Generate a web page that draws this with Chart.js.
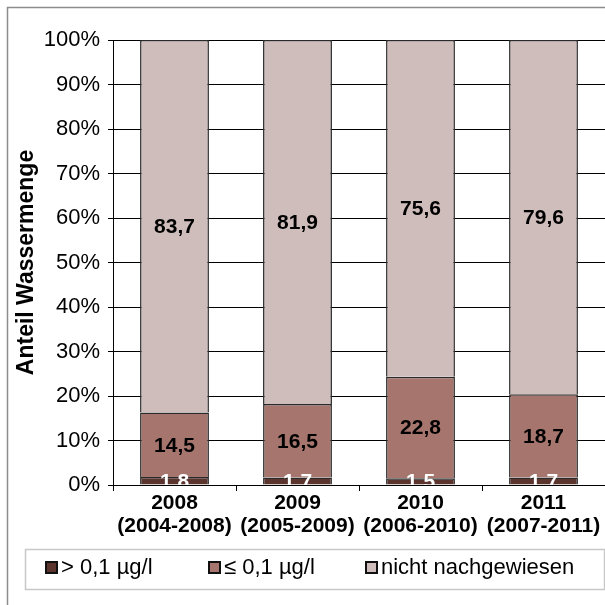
<!DOCTYPE html>
<html>
<head>
<meta charset="utf-8">
<script src="https://cdn.jsdelivr.net/npm/chart.js@4.4.1/dist/chart.umd.min.js"></script>
<style>
  html, body { margin: 0; padding: 0; background: #fff; }
  #wrap { width: 605px; height: 605px; }
</style>
</head>
<body>
<div id="wrap"><canvas id="chart" width="605" height="605"></canvas></div>
<script>
// Anteil Wassermenge nach Befund
const categories = [['2008', '(2004-2008)'], ['2009', '(2005-2009)'], ['2010', '(2006-2010)'], ['2011', '(2007-2011)']];
const seriesNames = ['> 0,1 µg/l', '≤ 0,1 µg/l', 'nicht nachgewiesen'];
const ueber = [1.8, 1.7, 1.5, 1.7];
const unter = [14.5, 16.5, 22.8, 18.7];
const nicht = [83.7, 81.9, 75.6, 79.6];
const yTicks = [0, 10, 20, 30, 40, 50, 60, 70, 80, 90, 100];

const colors = ['#5c342e', '#a6766e', '#cfbdbb'];
const FONT = "'Liberation Sans', Arial, sans-serif";

// 100%-gestapelt: jede säule auf ihre summe normieren
const series = [ueber, unter, nicht];
const totals = categories.map((c, j) => series.reduce((s, d) => s + d[j], 0));

// rahmen um das ganze diagramm
const framePlugin = {
  id: 'frame',
  beforeDraw(chart) {
    const ctx = chart.ctx;
    ctx.save();
    ctx.fillStyle = '#fff';
    ctx.fillRect(0, 0, chart.width, chart.height);
    ctx.strokeStyle = '#8c8c8c';
    ctx.lineWidth = 1.5;
    ctx.strokeRect(7.5, 7.5, chart.width, chart.height);
    ctx.restore();
  }
};

// werte in die balken schreiben
const valuePlugin = {
  id: 'values',
  afterDatasetsDraw(chart) {
    const ctx = chart.ctx;
    const a = chart.chartArea;
    ctx.save();
    ctx.beginPath();
    ctx.rect(a.left, a.top, a.right - a.left, a.bottom - a.top);
    ctx.clip();
    ctx.font = 'bold 21px ' + FONT;
    ctx.textAlign = 'center';
    ctx.textBaseline = 'middle';
    chart.data.datasets.forEach((ds, i) => {
      const meta = chart.getDatasetMeta(i);
      ctx.fillStyle = i === 0 ? '#fff' : '#000';
      meta.data.forEach((bar, j) => {
        const y = (bar.y + bar.base) / 2;
        ctx.fillText(String(series[i][j]).replace('.', ','), bar.x, y + 1);
      });
    });
    ctx.restore();
  }
};

// legende im kasten unten
const legendPlugin = {
  id: 'boxLegend',
  afterDraw(chart) {
    const ctx = chart.ctx;
    const xs = [46, 209, 366];
    ctx.save();
    ctx.strokeStyle = '#c8c8c8';
    ctx.lineWidth = 1.5;
    ctx.strokeRect(25.5, 549.5, 579, 40);
    ctx.font = '22px ' + FONT;
    ctx.textBaseline = 'middle';
    ctx.textAlign = 'left';
    chart.data.datasets.forEach((ds, i) => {
      ctx.fillStyle = ds.backgroundColor;
      ctx.fillRect(xs[i], 562, 11, 11);
      ctx.strokeStyle = '#111';
      ctx.lineWidth = 2;
      ctx.strokeRect(xs[i], 562, 11, 11);
      ctx.fillStyle = '#000';
      ctx.fillText(ds.label, xs[i] + 15, 568);
    });
    ctx.restore();
  }
};

new Chart(document.getElementById('chart'), {
  type: 'bar',
  data: {
    labels: categories,
    datasets: series.map((d, i) => ({
      label: seriesNames[i],
      data: d.map((v, j) => v / totals[j] * 100),
      backgroundColor: colors[i],
      borderColor: '#2a2a2a',
      borderWidth: 1.5,
      categoryPercentage: 1,
      barPercentage: 0.56
    }))
  },
  options: {
    responsive: false,
    animation: false,
    events: [],
    layout: { padding: { top: 40, left: 0, right: 0, bottom: 0 } },
    plugins: { legend: { display: false }, tooltip: { enabled: false } },
    scales: {
      x: {
        stacked: true,
        afterFit: s => { s.height = 120; },
        grid: { drawOnChartArea: false, drawTicks: true, tickLength: 6, color: '#000' },
        border: { color: '#000', width: 1 },
        ticks: { color: '#000', font: { family: FONT, size: 21, weight: 'bold', lineHeight: 1.1 }, padding: 1, maxRotation: 0, autoSkip: false }
      },
      y: {
        stacked: true,
        min: 0,
        max: 100,
        afterFit: s => { s.width = 113; },
        afterBuildTicks: s => { s.ticks = yTicks.map(v => ({ value: v })); },
        grid: { color: '#000', lineWidth: 1, tickLength: 5 },
        border: { color: '#000', width: 1 },
        ticks: { color: '#000', font: { family: FONT, size: 22 }, padding: 8, callback: v => v + '%' },
        title: { display: true, text: 'Anteil Wassermenge', color: '#000', font: { family: FONT, size: 23, weight: 'bold' }, padding: { top: 13 } }
      }
    }
  },
  plugins: [framePlugin, valuePlugin, legendPlugin]
});
</script>
</body>
</html>
